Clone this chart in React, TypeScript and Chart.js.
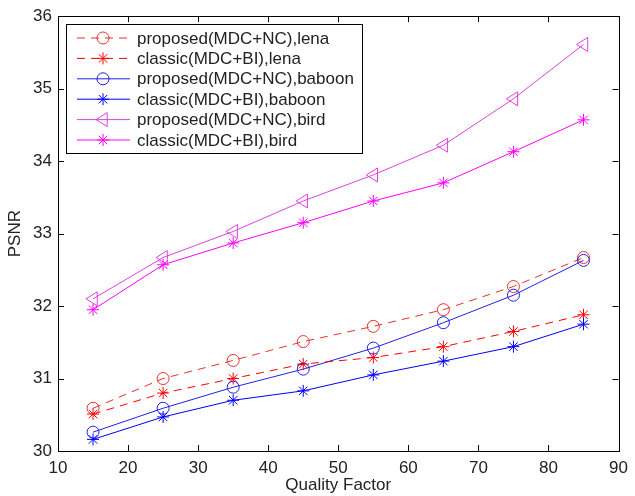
import React, { useEffect, useRef } from 'react';
import { Chart, registerables } from 'chart.js';
Chart.register(...registerables);

const qualityFactor = [15, 25, 35, 45, 55, 65, 75, 85];
const lenaProposed = [30.59, 31.0, 31.25, 31.51, 31.72, 31.95, 32.27, 32.67];
const lenaClassic = [30.51, 30.8, 31.0, 31.2, 31.29, 31.44, 31.65, 31.88];
const baboonProposed = [30.26, 30.59, 30.88, 31.13, 31.42, 31.77, 32.15, 32.63];
const baboonClassic = [30.16, 30.47, 30.7, 30.83, 31.05, 31.24, 31.44, 31.75];
const birdProposed = [32.1, 32.67, 33.03, 33.45, 33.81, 34.22, 34.86, 35.61];
const birdClassic = [31.95, 32.57, 32.87, 33.15, 33.45, 33.7, 34.13, 34.57];
const seriesLabels = [
  'proposed(MDC+NC),lena',
  'classic(MDC+BI),lena',
  'proposed(MDC+NC),baboon',
  'classic(MDC+BI),baboon',
  'proposed(MDC+NC),bird',
  'classic(MDC+BI),bird',
];
const xTicks = [10, 20, 30, 40, 50, 60, 70, 80, 90];
const yTicks = [30, 31, 32, 33, 34, 35, 36];

const FONT = '"Liberation Sans", Arial, sans-serif';

function drawMarker(ctx: CanvasRenderingContext2D, kind: string, x: number, y: number, color: string) {
  ctx.save();
  ctx.strokeStyle = color;
  ctx.lineWidth = 1;
  ctx.setLineDash([]);
  ctx.beginPath();
  if (kind === 'circle') {
    ctx.arc(x, y, 6, 0, Math.PI * 2);
  } else if (kind === 'star') {
    const r = 6;
    for (let i = 0; i < 4; i++) {
      const a = (i * Math.PI) / 4;
      ctx.moveTo(x - r * Math.cos(a), y - r * Math.sin(a));
      ctx.lineTo(x + r * Math.cos(a), y + r * Math.sin(a));
    }
  } else if (kind === 'triangle') {
    const r = 7;
    ctx.moveTo(x - r, y);
    ctx.lineTo(x + r * 0.6, y - r);
    ctx.lineTo(x + r * 0.6, y + r);
    ctx.closePath();
  }
  ctx.stroke();
  ctx.restore();
}

const markerKinds = ['circle', 'star', 'circle', 'star', 'triangle', 'star'];

const framePlugin = {
  id: 'frame',
  afterDatasetsDraw(chart: any) {
    const ctx = chart.ctx as CanvasRenderingContext2D;
    const { left, right, top, bottom } = chart.chartArea;
    chart.data.datasets.forEach((ds: any, i: number) => {
      const meta = chart.getDatasetMeta(i);
      meta.data.forEach((pt: any) => drawMarker(ctx, markerKinds[i], pt.x, pt.y, ds.borderColor));
    });
    ctx.save();
    ctx.strokeStyle = '#000';
    ctx.lineWidth = 1;
    ctx.setLineDash([]);
    ctx.strokeRect(Math.round(left) + 0.5, Math.round(top) + 0.5, Math.round(right - left), Math.round(bottom - top));
    const xs = chart.scales.x;
    const ys = chart.scales.y;
    const tl = 6;
    ctx.beginPath();
    xTicks.forEach((v) => {
      const px = Math.round(xs.getPixelForValue(v)) + 0.5;
      ctx.moveTo(px, bottom);
      ctx.lineTo(px, bottom - tl);
      ctx.moveTo(px, top);
      ctx.lineTo(px, top + tl);
    });
    yTicks.forEach((v) => {
      const py = Math.round(ys.getPixelForValue(v)) + 0.5;
      ctx.moveTo(left, py);
      ctx.lineTo(left + tl, py);
      ctx.moveTo(right, py);
      ctx.lineTo(right - tl, py);
    });
    ctx.stroke();

    // legend
    const lx = 66, ly = 24, lw = 296, lh = 129;
    ctx.fillStyle = '#fff';
    ctx.fillRect(lx, ly, lw, lh);
    ctx.strokeRect(lx + 0.5, ly + 0.5, lw, lh);
    ctx.font = `17px ${FONT}`;
    ctx.textBaseline = 'middle';
    ctx.textAlign = 'left';
    chart.data.datasets.forEach((ds: any, i: number) => {
      const y = 38 + i * 20.4;
      ctx.save();
      ctx.strokeStyle = ds.borderColor;
      ctx.lineWidth = 1;
      ctx.setLineDash(ds.borderDash || []);
      ctx.beginPath();
      ctx.moveTo(77, y);
      ctx.lineTo(130, y);
      ctx.stroke();
      ctx.restore();
      drawMarker(ctx, markerKinds[i], 103, y, ds.borderColor);
      ctx.fillStyle = '#222';
      ctx.fillText(ds.label, 137, y + 1);
    });
    ctx.restore();
  },
};

export default function App() {
  const ref = useRef<HTMLCanvasElement>(null);
  useEffect(() => {
    document.body.style.margin = '0';
    const mk = (label: string, vals: number[], color: string, dashed: boolean) => ({
      label,
      data: qualityFactor.map((x, i) => ({ x, y: vals[i] })),
      borderColor: color,
      backgroundColor: color,
      borderWidth: 1,
      borderDash: dashed ? [8, 6] : [],
      pointRadius: 0,
      fill: false,
      tension: 0,
    });
    const chart = new Chart(ref.current!, {
      type: 'line',
      data: {
        datasets: [
          mk(seriesLabels[0], lenaProposed, '#e8302c', true),
          mk(seriesLabels[1], lenaClassic, '#ff0000', true),
          mk(seriesLabels[2], baboonProposed, '#2020e8', false),
          mk(seriesLabels[3], baboonClassic, '#0000ff', false),
          mk(seriesLabels[4], birdProposed, '#e040e0', false),
          mk(seriesLabels[5], birdClassic, '#ff00ff', false),
        ],
      },
      options: {
        animation: false,
        responsive: false,
        maintainAspectRatio: false,
        layout: { padding: { top: 15, right: 12, left: 0, bottom: 0 } },
        plugins: { legend: { display: false }, tooltip: { enabled: false } },
        scales: {
          x: {
            type: 'linear',
            min: 10,
            max: 90,
            afterBuildTicks: (s: any) => { s.ticks = xTicks.map((v) => ({ value: v })); },
            afterFit: (s: any) => { s.height = 45; },
            grid: { display: false, drawTicks: false },
            border: { display: false },
            ticks: { color: '#222', font: { family: FONT, size: 17 }, padding: 7, maxRotation: 0 },
            title: { display: true, text: 'Quality Factor', color: '#222', font: { family: FONT, size: 17 }, padding: 0 },
          },
          y: {
            type: 'linear',
            min: 30,
            max: 36,
            afterBuildTicks: (s: any) => { s.ticks = yTicks.map((v) => ({ value: v })); },
            afterFit: (s: any) => { s.width = 58; },
            grid: { display: false, drawTicks: false },
            border: { display: false },
            ticks: { color: '#222', font: { family: FONT, size: 17 }, padding: 6 },
            title: { display: true, text: 'PSNR', color: '#222', font: { family: FONT, size: 17 }, padding: { top: 5, bottom: 0 } },
          },
        },
      },
      plugins: [framePlugin],
    } as any);
    return () => chart.destroy();
  }, []);
  return (
    <div style={{ width: 635, height: 496, background: '#fff' }}>
      <canvas ref={ref} width={635} height={496} style={{ display: 'block' }} />
    </div>
  );
}
